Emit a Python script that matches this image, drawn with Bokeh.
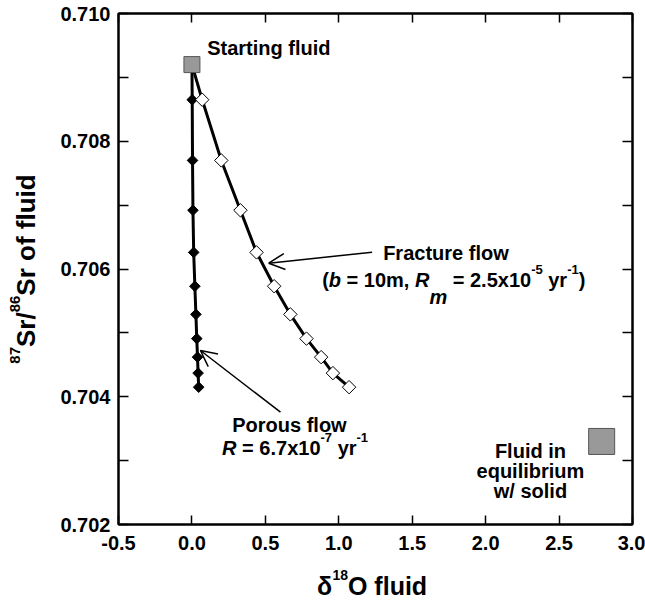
import math
from bokeh.plotting import figure
from bokeh.layouts import row, column
from bokeh.models import (Label, Arrow, OpenHead, LinearAxis, FixedTicker,
                          NumeralTickFormatter, Range1d, CustomJSTickFormatter)
from bokeh.embed import file_html
from bokeh.resources import INLINE

# ---------------- data ----------------
start_d18o = [0.0]
start_sr = [0.70920]
equil_d18o = [2.79]
equil_sr = [0.70330]

porous_d18o = [0.002, 0.004, 0.007, 0.012, 0.020, 0.027, 0.033, 0.038, 0.042, 0.046]
fracture_d18o = [0.07, 0.20, 0.33, 0.44, 0.56, 0.67, 0.78, 0.88, 0.96, 1.07]
step_sr = [0.70865, 0.70770, 0.70692, 0.70626, 0.70573, 0.70529,
           0.70491, 0.70462, 0.70437, 0.70415]

x_ticks = [-0.5, 0.0, 0.5, 1.0, 1.5, 2.0, 2.5, 3.0]
y_ticks = [0.702, 0.704, 0.706, 0.708, 0.710]
y_minor = [0.703, 0.705, 0.707, 0.709]

# annotation anchors (data units)
frac_arrow = [1.227, 0.706263, 0.523, 0.706091]
por_arrow = [0.603, 0.703758, 0.058, 0.704724]

FONT = "Liberation Sans"
BASE = 20

W = {' ': 278, '(': 333, ')': 333, ',': 278, '-': 333, '.': 278, '/': 278,
     '=': 584, 'F': 611, 'O': 778, 'P': 667, 'R': 722, 'S': 667,
     'a': 556, 'b': 611, 'c': 556, 'd': 611, 'e': 556, 'f': 333, 'g': 611,
     'i': 278, 'l': 278, 'm': 889, 'n': 611, 'o': 611, 'q': 611, 'r': 389,
     's': 556, 't': 333, 'u': 611, 'w': 778, 'x': 556, 'y': 556, 'δ': 611}

CORR = 0.36  # baseline correction, fraction of font size


def tw(s, size):
    return sum(W.get(c, 556) for c in s) * size / 1000.0


def rich(p, x, y, runs, align="left", angle=0.0):
    total = sum(tw(r[0], r[1]) for r in runs)
    pos = -total / 2.0 if align == "center" else 0.0
    for text, sz, style, dy in runs:
        lead = len(text) - len(text.lstrip(' '))
        trail = len(text) - len(text.rstrip(' '))
        core = text.strip(' ')
        pos += lead * 278 * sz / 1000.0
        if angle == 0:
            xo, yo = pos, dy + CORR * sz
        else:
            xo, yo = -dy - CORR * sz, pos
        p.add_layout(Label(x=x, y=y, x_offset=xo, y_offset=yo, text=core,
                           angle=angle, text_font=FONT,
                           text_font_size=f"{sz}px", text_font_style=style,
                           text_align="left", text_baseline="alphabetic",
                           text_color="black"))
        pos += tw(core, sz) + trail * 278 * sz / 1000.0


def plain(p, x, y, text, sz=BASE, align="left"):
    p.add_layout(Label(x=x, y=y, y_offset=CORR * sz, text=text, text_font=FONT,
                       text_font_size=f"{sz}px", text_font_style="bold",
                       text_align=align, text_baseline="alphabetic",
                       text_color="black"))


x_rng = Range1d(-0.5, 3.0)
p = figure(frame_width=514, frame_height=511, output_backend="svg",
           toolbar_location=None, x_range=x_rng,
           y_range=Range1d(0.702, 0.710), min_border_left=68,
           min_border_right=13, min_border_top=13, min_border_bottom=40,
           x_axis_type=None, y_axis_type=None)
p.grid.visible = False
p.outline_line_color = "black"
p.outline_line_width = 2
p.background_fill_color = "white"
p.border_fill_color = "white"


def make_axis(kind, show_labels):
    ax = LinearAxis()
    if kind == "x":
        ax.ticker = FixedTicker(ticks=x_ticks)
        ax.formatter = NumeralTickFormatter(format="0.0")
        ax.major_tick_in = 9
        ax.minor_tick_line_color = None
        ax.major_label_standoff = 11
    else:
        ax.ticker = FixedTicker(ticks=y_ticks, minor_ticks=y_minor)
        ax.formatter = NumeralTickFormatter(format="0.000")
        ax.major_tick_in = 10
        ax.minor_tick_in = 10
        ax.minor_tick_out = 0
        ax.minor_tick_line_width = 1.5
        ax.major_label_standoff = 8
    ax.major_tick_out = 0
    ax.major_tick_line_width = 1.5
    ax.axis_line_width = 2
    ax.major_label_text_font = FONT
    ax.major_label_text_font_style = "bold"
    ax.major_label_text_color = "black"
    if show_labels:
        ax.major_label_text_font_size = f"{BASE}px"
    else:
        ax.formatter = CustomJSTickFormatter(code="return '';")
        ax.major_label_text_font_size = "0px"
        ax.major_label_standoff = 0
    return ax


p.add_layout(make_axis("x", True), "below")
p.add_layout(make_axis("y", True), "left")
p.add_layout(make_axis("x", False), "above")
p.add_layout(make_axis("y", False), "right")

# lines
p.line(start_d18o + porous_d18o, start_sr + step_sr, line_color="black", line_width=3)
p.line(start_d18o + fracture_d18o, start_sr + step_sr, line_color="black", line_width=3)

# markers
p.scatter(porous_d18o, step_sr, marker="square", angle=math.pi / 4, size=7.5,
          fill_color="black", line_color="black")
p.scatter(fracture_d18o, step_sr, marker="square", angle=math.pi / 4, size=9.5,
          fill_color="white", line_color="black", line_width=1)
p.scatter(start_d18o, start_sr, marker="square", size=16,
          fill_color="#999999", line_color="#555555", line_width=1)
p.scatter(equil_d18o, equil_sr, marker="square", size=26,
          fill_color="#999999", line_color="#555555", line_width=1)

# arrows
for a in (frac_arrow, por_arrow):
    p.add_layout(Arrow(x_start=a[0], y_start=a[1], x_end=a[2], y_end=a[3],
                       line_width=1.5, line_color="black",
                       end=OpenHead(size=16, line_width=1.5, line_color="black")))

# annotations
plain(p, 0.1035, 0.709353, "Starting fluid")
plain(p, 1.7295, 0.706133, "Fracture flow", align="center")
rich(p, 0.8866, 0.705715, [("(", BASE, "bold", 0), ("b", BASE, "bold italic", 0),
                           (" = 10m, ", BASE, "bold", 0), ("R", BASE, "bold italic", 0),
                           ("m", BASE, "bold italic", -17), (" = 2.5x10", BASE, "bold", 0),
                           ("-5", 13, "bold", 13), (" yr", BASE, "bold", 0),
                           ("-1", 13, "bold", 13), (")", BASE, "bold", 0)])
plain(p, 0.664, 0.703445, "Porous flow", align="center")
rich(p, 0.2056, 0.703080, [("R", BASE, "bold italic", 0), (" = 6.7x10", BASE, "bold", 0),
                           ("-7", 13, "bold", 13), (" yr", BASE, "bold", 0),
                           ("-1", 13, "bold", 13)])
plain(p, 2.305, 0.703033, "Fluid in", align="center")
plain(p, 2.305, 0.702720, "equilibrium", align="center")
plain(p, 2.305, 0.702407, "w/ solid", align="center")


def strip_fig(**kw):
    f = figure(output_backend="svg", toolbar_location=None,
               x_axis_type=None, y_axis_type=None, **kw)
    f.grid.visible = False
    f.outline_line_color = None
    f.background_fill_color = "white"
    f.border_fill_color = "white"
    return f


# y-axis title strip (pixel coordinates)
yfig = strip_fig(width=50, height=602, x_range=Range1d(0, 50),
                 y_range=Range1d(0, 602), min_border=0)
rich(yfig, 35, 333.5, [("87", 15, "bold", 15), ("Sr/", 26, "bold", 0),
                       ("86", 15, "bold", 15), ("Sr of fluid", 26, "bold", 0)],
     align="center", angle=math.pi / 2)

# x-axis title strip sharing the main x range
xfig = strip_fig(frame_width=514, height=38, x_range=x_rng,
                 y_range=Range1d(0, 38), min_border_left=68,
                 min_border_right=13, min_border_top=0, min_border_bottom=0)
rich(xfig, 0.8525, 8, [("δ", 25, "bold", 0), ("18", 14, "bold", 14),
                       ("O fluid", 25, "bold", 0)])

layout = row(yfig, column(p, xfig, spacing=0), spacing=0)

open("out.html", "w").write(file_html(layout, INLINE))
